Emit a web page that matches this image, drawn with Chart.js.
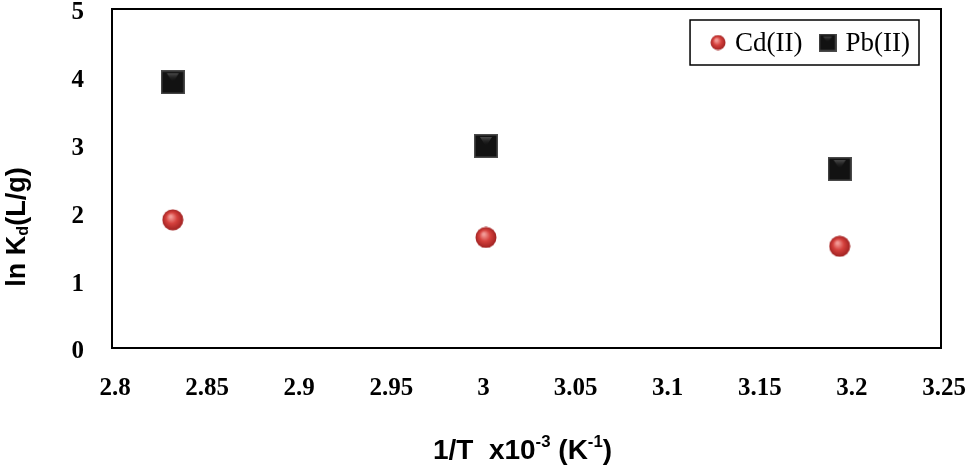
<!DOCTYPE html>
<html>
<head>
<meta charset="utf-8">
<script src="https://cdn.jsdelivr.net/npm/chart.js@4.4.1/dist/chart.umd.min.js"></script>
<style>
  html, body { margin: 0; padding: 0; background: #fff; }
  canvas { display: block; }
</style>
</head>
<body>
<canvas id="chart" width="969" height="469"></canvas>
<script>
// data
const invT = [2.833, 3.003, 3.195];
const cdValues = [1.89, 1.63, 1.50];
const pbValues = [3.92, 2.98, 2.64];
const seriesNames = ['Cd(II)', 'Pb(II)'];
const xTicks = [2.8, 2.85, 2.9, 2.95, 3, 3.05, 3.1, 3.15, 3.2, 3.25];
const xTickLabels = ['2.8', '2.85', '2.9', '2.95', '3', '3.05', '3.1', '3.15', '3.2', '3.25'];
const yTicks = [0, 1, 2, 3, 4, 5];
const yTickLabels = ['0', '1', '2', '3', '4', '5'];

// marker images (shaded sphere, dark square)
function makeSphere(d) {
  const c = document.createElement('canvas');
  c.width = d; c.height = d;
  const g = c.getContext('2d');
  const r = d / 2;
  const grad = g.createRadialGradient(r * 0.8, r * 0.7, 1, r, r, r);
  grad.addColorStop(0, '#f29a96');
  grad.addColorStop(0.45, '#d5413d');
  grad.addColorStop(1, '#9c1f1f');
  g.fillStyle = grad;
  g.beginPath();
  g.arc(r, r, r - 0.5, 0, Math.PI * 2);
  g.fill();
  return c;
}
function makeSquare(d) {
  const c = document.createElement('canvas');
  c.width = d; c.height = d;
  const g = c.getContext('2d');
  g.fillStyle = '#4a4a4a';
  g.fillRect(0, 0, d, d);
  g.fillStyle = '#121212';
  g.fillRect(1.5, 1.5, d - 3, d - 3);
  const grad = g.createLinearGradient(0, 2, 0, d / 2);
  grad.addColorStop(0, 'rgba(120,120,120,0.7)');
  grad.addColorStop(1, 'rgba(20,20,20,0)');
  g.fillStyle = grad;
  g.beginPath();
  g.moveTo(d * 0.25, 3); g.lineTo(d * 0.75, 3); g.lineTo(d * 0.55, d * 0.45); g.lineTo(d * 0.45, d * 0.45);
  g.closePath();
  g.fill();
  return c;
}

const cdPoint = makeSphere(22);
const pbPoint = makeSquare(24);
const cdLegend = makeSphere(16);
const pbLegend = makeSquare(18);

function drawRich(ctx, parts, size, font) {
  // parts: [text, 'n'|'sub'|'sup']
  let x = 0;
  parts.forEach(([t, mode]) => {
    const s = mode === 'n' ? size : size * 0.6;
    ctx.font = 'bold ' + s + 'px ' + font;
    const dy = mode === 'sub' ? size * 0.22 : mode === 'sup' ? -size * 0.3 : 0;
    ctx.fillText(t, x, dy);
    x += ctx.measureText(t).width;
  });
  return x;
}
function richWidth(ctx, parts, size, font) {
  let w = 0;
  parts.forEach(([t, mode]) => {
    const s = mode === 'n' ? size : size * 0.6;
    ctx.font = 'bold ' + s + 'px ' + font;
    w += ctx.measureText(t).width;
  });
  return w;
}

const decorations = {
  id: 'decorations',
  afterDraw(chart) {
    const { ctx, chartArea: a } = chart;
    ctx.save();
    // frame
    ctx.strokeStyle = '#000';
    ctx.lineWidth = 2;
    ctx.strokeRect(a.left, a.top, a.right - a.left, a.bottom - a.top);

    // axis titles
    const sans = '"Liberation Sans", Arial, sans-serif';
    ctx.fillStyle = '#000';
    ctx.textBaseline = 'middle';
    ctx.textAlign = 'left';
    const xt = [['1/T  x10', 'n'], ['-3', 'sup'], [' (K', 'n'], ['-1', 'sup'], [')', 'n']];
    let w = richWidth(ctx, xt, 28, sans);
    ctx.save();
    ctx.translate((a.left + a.right) / 2 - 4 - w / 2, 451);
    drawRich(ctx, xt, 28, sans);
    ctx.restore();

    const yt = [['ln K', 'n'], ['d', 'sub'], ['(L/g)', 'n']];
    w = richWidth(ctx, yt, 27, sans);
    ctx.save();
    ctx.translate(18, 227 + w / 2);
    ctx.rotate(-Math.PI / 2);
    drawRich(ctx, yt, 27, sans);
    ctx.restore();

    // legend box
    ctx.font = '27px "Liberation Serif", "Times New Roman", serif';
    const items = chart.data.datasets.map((ds, i) => ({
      img: i === 0 ? cdLegend : pbLegend,
      text: ds.label,
      tw: ctx.measureText(ds.label).width
    }));
    let bw = 20 + 9;
    items.forEach((it, i) => { bw += it.img.width + 9 + it.tw + (i < items.length - 1 ? 16 : 0); });
    const bRight = a.right - 22, bTop = a.top + 11, bh = 45;
    const bLeft = bRight - bw;
    ctx.lineWidth = 1.5;
    ctx.strokeRect(bLeft, bTop, bw, bh);
    let cx = bLeft + 20;
    const cy = bTop + bh / 2;
    items.forEach(it => {
      ctx.drawImage(it.img, cx, cy - it.img.height / 2);
      cx += it.img.width + 9;
      ctx.fillText(it.text, cx, cy + 1);
      cx += it.tw + 16;
    });
    ctx.restore();
  }
};

const tickFont = { family: '"Liberation Serif", "Times New Roman", serif', size: 25, weight: 'bold' };

new Chart(document.getElementById('chart'), {
  type: 'scatter',
  data: {
    datasets: [
      {
        label: seriesNames[0],
        data: invT.map((x, i) => ({ x: x, y: cdValues[i] })),
        pointStyle: cdPoint,
        pointRadius: 11
      },
      {
        label: seriesNames[1],
        data: invT.map((x, i) => ({ x: x, y: pbValues[i] })),
        pointStyle: pbPoint,
        pointRadius: 12
      }
    ]
  },
  options: {
    responsive: false,
    animation: false,
    layout: { autoPadding: false, padding: { left: 0, top: 9, right: 28, bottom: 0 } },
    plugins: { legend: { display: false }, tooltip: { enabled: false } },
    scales: {
      x: {
        type: 'linear',
        min: 2.8,
        max: 3.25,
        afterBuildTicks: s => { s.ticks = xTicks.map(v => ({ value: v })); },
        afterFit: s => { s.height = 121; s.paddingLeft = 0; s.paddingRight = 0; },
        grid: { display: false },
        border: { display: false },
        ticks: {
          color: '#000',
          font: tickFont,
          padding: 18,
          labelOffset: 3,
          maxRotation: 0,
          autoSkip: false,
          callback: (v, i) => xTickLabels[i]
        }
      },
      y: {
        type: 'linear',
        min: 0,
        max: 5,
        afterBuildTicks: s => { s.ticks = yTicks.map(v => ({ value: v })); },
        afterFit: s => { s.width = 112; s.paddingTop = 0; s.paddingBottom = 0; },
        grid: { display: false },
        border: { display: false },
        ticks: {
          color: '#000',
          font: tickFont,
          padding: 20,
          labelOffset: 4,
          autoSkip: false,
          callback: (v, i) => yTickLabels[i]
        }
      }
    }
  },
  plugins: [decorations]
});
</script>
</body>
</html>
